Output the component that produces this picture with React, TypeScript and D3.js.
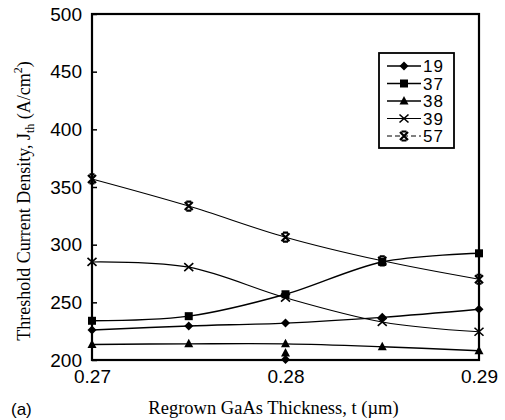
import React, { useRef, useEffect } from 'react';
import * as d3 from 'd3';

// thickness values (um)
const thickness = [0.27, 0.275, 0.28, 0.285, 0.29];

// threshold current density per sample (A/cm^2)
const s19 = [226, 229.5, 232, 237, 244];
const s37 = [234, 238, 257, 285, 292.5];
const s38 = [213.5, 214, 214, 211.5, 208];
const s39 = [285, 280.5, 254, 233, 224.5];
const s57 = [357, 333.5, 306.5, 286, 270];

// stray points plotted at 0.28 near the bottom
const strayX = [0.28, 0.28];
const strayY = [206, 200.5];
const strayShape = ['triangle', 'diamond'];

const seriesNames = ['19', '37', '38', '39', '57'];
const seriesValues = [s19, s37, s38, s39, s57];
const seriesShapes = ['diamond', 'square', 'triangle', 'x', 'star'];

const yTicks = [200, 250, 300, 350, 400, 450, 500];
const xTicks = [0.27, 0.28, 0.29];

const App = () => {
  const ref = useRef<SVGSVGElement>(null);

  useEffect(() => {
    const svg = d3.select(ref.current);
    svg.selectAll('*').remove();

    const margin = { top: 14, right: 26, bottom: 60, left: 92 };
    const width = 505 - margin.left - margin.right;
    const height = 420 - margin.top - margin.bottom;

    const x = d3.scaleLinear().domain([0.27, 0.29]).range([0, width]);
    const y = d3.scaleLinear().domain([200, 500]).range([height, 0]);

    const g = svg.append('g').attr('transform', `translate(${margin.left},${margin.top})`);

    const drawMarker = (sel: any, shape: string, cx: number, cy: number) => {
      if (shape === 'diamond') {
        sel.append('path').attr('d', `M${cx},${cy - 4.5}L${cx + 4.5},${cy}L${cx},${cy + 4.5}L${cx - 4.5},${cy}Z`).attr('fill', '#000');
      } else if (shape === 'square') {
        sel.append('rect').attr('x', cx - 4).attr('y', cy - 4).attr('width', 8).attr('height', 8).attr('fill', '#000');
      } else if (shape === 'triangle') {
        sel.append('path').attr('d', `M${cx},${cy - 5}L${cx + 4.5},${cy + 3.5}L${cx - 4.5},${cy + 3.5}Z`).attr('fill', '#000');
      } else if (shape === 'x') {
        sel.append('path').attr('d', `M${cx - 4.5},${cy - 4}L${cx + 4.5},${cy + 4}M${cx + 4.5},${cy - 4}L${cx - 4.5},${cy + 4}`)
          .attr('stroke', '#000').attr('stroke-width', 1.6);
      } else {
        sel.append('path').attr('d', `M${cx - 4},${cy - 4}L${cx + 4},${cy + 4}M${cx + 4},${cy - 4}L${cx - 4},${cy + 4}M${cx - 2.5},${cy - 4.5}H${cx + 2.5}M${cx - 2.5},${cy + 4.5}H${cx + 2.5}`)
          .attr('stroke', '#000').attr('stroke-width', 2.2);
      }
    };

    // lines
    const line = d3.line<number>()
      .x((d, i) => x(thickness[i]))
      .y(d => y(d))
      .curve(d3.curveCatmullRom.alpha(0));

    seriesValues.forEach((vals, si) => {
      g.append('path')
        .datum(vals)
        .attr('d', line)
        .attr('fill', 'none')
        .attr('stroke', '#000')
        .attr('stroke-width', si >= 3 ? 1.1 : 1.4);
      vals.forEach((v, i) => drawMarker(g, seriesShapes[si], x(thickness[i]), y(v)));
    });

    strayX.forEach((sx, i) => drawMarker(g, strayShape[i], x(sx), y(strayY[i])));

    // frame
    g.append('rect')
      .attr('x', 0).attr('y', 0).attr('width', width).attr('height', height)
      .attr('fill', 'none').attr('stroke', '#000').attr('stroke-width', 2.2);

    // y axis
    const yAxis = g.append('g').call(d3.axisLeft(y).tickValues(yTicks).tickSize(-5).tickPadding(10).tickFormat(d3.format('d')));
    yAxis.select('.domain').remove();
    yAxis.selectAll('line').attr('stroke-width', 1.5);
    yAxis.selectAll('text').attr('font-family', 'Liberation Sans, Arial, sans-serif').attr('font-size', 19).attr('fill', '#000');

    // x axis
    const xAxis = g.append('g').attr('transform', `translate(0,${height})`)
      .call(d3.axisBottom(x).tickValues(xTicks).tickSize(0).tickPadding(10).tickFormat(d3.format('.2f')));
    xAxis.select('.domain').remove();
    xAxis.selectAll('text').attr('font-family', 'Liberation Sans, Arial, sans-serif').attr('font-size', 19).attr('fill', '#000');

    // axis titles
    const ylab = svg.append('text')
      .attr('transform', `translate(30,${margin.top + height / 2 + 14}) rotate(-90)`)
      .attr('text-anchor', 'middle')
      .attr('font-family', 'Liberation Serif, Times New Roman, serif')
      .attr('font-size', 18);
    ylab.append('tspan').text('Threshold Current Density, J');
    ylab.append('tspan').attr('font-size', 12).attr('dy', 4).text('th');
    ylab.append('tspan').attr('dy', -4).text(' (A/cm');
    ylab.append('tspan').attr('font-size', 12).attr('dy', -8).text('2');
    ylab.append('tspan').attr('dy', 8).text(')');

    svg.append('text')
      .attr('x', margin.left + width / 2 - 12).attr('y', 414)
      .attr('text-anchor', 'middle')
      .attr('font-family', 'Liberation Serif, Times New Roman, serif')
      .attr('font-size', 18.5)
      .text('Regrown GaAs Thickness, t (\u00b5m)');

    svg.append('text')
      .attr('x', 11).attr('y', 415)
      .attr('font-family', 'Liberation Sans, Arial, sans-serif')
      .attr('font-size', 17)
      .text('(a)');

    // legend
    const lg = svg.append('g').attr('transform', 'translate(379,53)');
    lg.append('rect').attr('width', 75).attr('height', 95)
      .attr('fill', '#fff').attr('stroke', '#000').attr('stroke-width', 1.8);
    seriesNames.forEach((name, i) => {
      const cy = 13 + i * 17.5;
      lg.append('line').attr('x1', 8).attr('x2', 42).attr('y1', cy).attr('y2', cy)
        .attr('stroke', '#000').attr('stroke-width', i >= 3 ? 1 : 1.4)
        .attr('stroke-dasharray', i === 4 ? '5,3' : null);
      drawMarker(lg, seriesShapes[i], 25, cy);
      lg.append('text').attr('x', 44).attr('y', cy + 6)
        .attr('font-family', 'Liberation Sans, Arial, sans-serif')
        .attr('font-size', 17)
        .attr('textLength', 20)
        .text(name);
    });
  }, []);

  return <svg ref={ref} width={505} height={420} style={{ position: 'absolute', left: 0, top: 0 }} />;
};

export default App;
